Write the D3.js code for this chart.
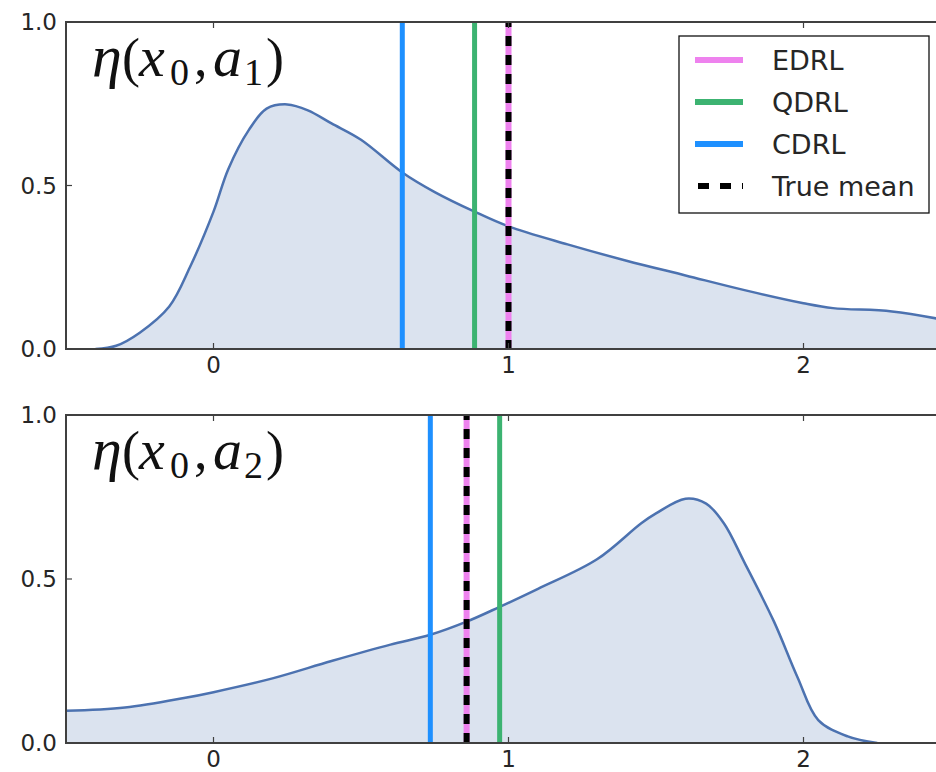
<!DOCTYPE html>
<html>
<head>
<meta charset="utf-8">
<script src="https://cdn.jsdelivr.net/npm/d3@7"></script>
<style>
  body { margin: 0; background: #fff; }
  text { font-family: "DejaVu Sans", sans-serif; }
</style>
</head>
<body>
<script>
  // density for action a1 (x, eta)
  var xsA1 = [-0.40, -0.33, -0.25, -0.15, -0.08, 0.00, 0.05, 0.12, 0.18, 0.25, 0.32, 0.40, 0.50, 0.64, 0.75, 0.885, 1.00, 1.20, 1.40, 1.60, 1.80, 2.00, 2.10, 2.30, 2.50],
      ysA1 = [0.00, 0.01, 0.05, 0.13, 0.25, 0.42, 0.55, 0.67, 0.735, 0.748, 0.73, 0.69, 0.64, 0.54, 0.48, 0.42, 0.375, 0.32, 0.27, 0.225, 0.18, 0.14, 0.125, 0.115, 0.085];

  // density for action a2
  var xsA2 = [-0.50, -0.30, -0.10, 0.00, 0.20, 0.40, 0.60, 0.735, 0.858, 0.97, 1.10, 1.30, 1.45, 1.50, 1.60, 1.67, 1.73, 1.80, 1.90, 1.98, 2.05, 2.15, 2.25],
      ysA2 = [0.098, 0.108, 0.137, 0.155, 0.197, 0.25, 0.30, 0.33, 0.37, 0.415, 0.47, 0.56, 0.67, 0.70, 0.745, 0.73, 0.67, 0.55, 0.37, 0.20, 0.07, 0.02, 0.00];

  // mean estimates per panel: EDRL, QDRL, CDRL, true mean
  var methods = ['EDRL', 'QDRL', 'CDRL', 'True mean'],
      meansA1 = [1.0, 0.885, 0.64, 1.0],
      meansA2 = [0.858, 0.97, 0.735, 0.858];

  var xTicks = [0, 1, 2],
      yTicks = [0, 0.5, 1.0];

  var colors = {EDRL: '#ee82ee', QDRL: '#3cb371', CDRL: '#1e90ff', 'True mean': '#000'};

  var W = 936, H = 772, L = 66;
  var svg = d3.select('body').append('svg').attr('width', W).attr('height', H);

  var x = d3.scaleLinear().domain([-0.5, 2.5]).range([L, 951]);

  var panels = [
    {top: 22, bottom: 349, xs: xsA1, ys: ysA1, means: meansA1, sub: '1', legend: true},
    {top: 415, bottom: 743, xs: xsA2, ys: ysA2, means: meansA2, sub: '2', legend: false}
  ];

  var spine = '#404040';

  panels.forEach(function (p, pi) {
    var y = d3.scaleLinear().domain([0, 1]).range([p.bottom, p.top]);
    var g = svg.append('g');
    var pts = p.xs.map(function (d, i) { return [d, p.ys[i]]; });

    g.append('clipPath').attr('id', 'clip' + pi)
      .append('rect').attr('x', L).attr('y', p.top).attr('width', W - L).attr('height', p.bottom - p.top);

    var plot = g.append('g').attr('clip-path', 'url(#clip' + pi + ')');
    var curve = d3.curveCatmullRom.alpha(0.5);

    plot.append('path').datum(pts)
      .attr('d', d3.area().curve(curve).x(function (d) { return x(d[0]); }).y0(y(0)).y1(function (d) { return y(d[1]); }))
      .attr('fill', '#4c72b0').attr('fill-opacity', 0.2);

    plot.append('path').datum(pts)
      .attr('d', d3.line().curve(curve).x(function (d) { return x(d[0]); }).y(function (d) { return y(d[1]); }))
      .attr('fill', 'none').attr('stroke', '#4c72b0').attr('stroke-width', 2.5);

    // vertical mean lines, CDRL, QDRL, EDRL, then dashed true mean on top
    [2, 1, 0, 3].forEach(function (k) {
      var m = methods[k];
      plot.append('line')
        .attr('x1', x(p.means[k])).attr('x2', x(p.means[k]))
        .attr('y1', p.top).attr('y2', p.bottom)
        .attr('stroke', colors[m]).attr('stroke-width', m === 'True mean' || m === 'EDRL' ? 6 : 5)
        .attr('stroke-dasharray', m === 'True mean' ? '10,9' : null)
        .attr('stroke-dashoffset', m === 'True mean' ? 5 : null);
    });

    // frame
    g.append('path')
      .attr('d', 'M' + W + ',' + p.top + 'H' + L + 'V' + p.bottom + 'H' + W)
      .attr('fill', 'none').attr('stroke', spine).attr('stroke-width', 2);

    // inward ticks top and bottom
    xTicks.forEach(function (t) {
      g.append('line').attr('x1', x(t)).attr('x2', x(t)).attr('y1', p.bottom).attr('y2', p.bottom - 6)
        .attr('stroke', spine).attr('stroke-width', 1.2);
      g.append('line').attr('x1', x(t)).attr('x2', x(t)).attr('y1', p.top).attr('y2', p.top + 6)
        .attr('stroke', spine).attr('stroke-width', 1.2);
      g.append('text').attr('x', x(t)).attr('y', p.bottom + 24)
        .attr('text-anchor', 'middle').attr('font-size', 23).attr('fill', '#262626').text(t);
    });
    yTicks.forEach(function (t) {
      g.append('line').attr('x1', L).attr('x2', L + 6).attr('y1', y(t)).attr('y2', y(t))
        .attr('stroke', spine).attr('stroke-width', 1.2);
      g.append('text').attr('x', 57).attr('y', y(t) + 8)
        .attr('text-anchor', 'end').attr('font-size', 23).attr('fill', '#262626').text(d3.format('.1f')(t));
    });

    // math title eta(x_0, a_k)
    var tx = 92, base = p.top + 54;
    var title = g.append('text').attr('y', base)
      .style('font-family', '"Liberation Serif", "DejaVu Serif", serif').attr('font-size', 54).attr('fill', '#111');
    title.append('tspan').attr('x', tx).attr('font-style', 'italic').attr('font-size', 60).text('\u03b7');
    title.append('tspan').attr('x', tx + 30).text('(');
    title.append('tspan').attr('x', tx + 47).attr('font-style', 'italic').attr('font-size', 58).text('x');
    title.append('tspan').attr('x', tx + 78).attr('font-size', 38).attr('dy', 9).text('0');
    title.append('tspan').attr('x', tx + 102).attr('dy', -9).text(',');
    title.append('tspan').attr('x', tx + 121).attr('font-style', 'italic').attr('font-size', 58).text('a');
    title.append('tspan').attr('x', tx + 152).attr('font-size', 38).attr('dy', 9).text(p.sub);
    title.append('tspan').attr('x', tx + 174).attr('dy', -9).text(')');

    if (p.legend) {
      var lg = g.append('g').attr('transform', 'translate(679,36)');
      lg.append('rect').attr('width', 250).attr('height', 177)
        .attr('fill', '#fff').attr('stroke', '#111').attr('stroke-width', 1.3);
      methods.forEach(function (m, i) {
        var yy = 24 + i * 42;
        lg.append('line').attr('x1', 16).attr('x2', 64).attr('y1', yy).attr('y2', yy)
          .attr('stroke', colors[m]).attr('stroke-width', 6)
          .attr('stroke-dasharray', m === 'True mean' ? '11,11' : null)
          .attr('stroke-dashoffset', m === 'True mean' ? -3 : null);
        lg.append('text').attr('x', 93).attr('y', yy + 10).attr('font-size', 27).attr('fill', '#262626').text(m);
      });
    }
  });
</script>
</body>
</html>
